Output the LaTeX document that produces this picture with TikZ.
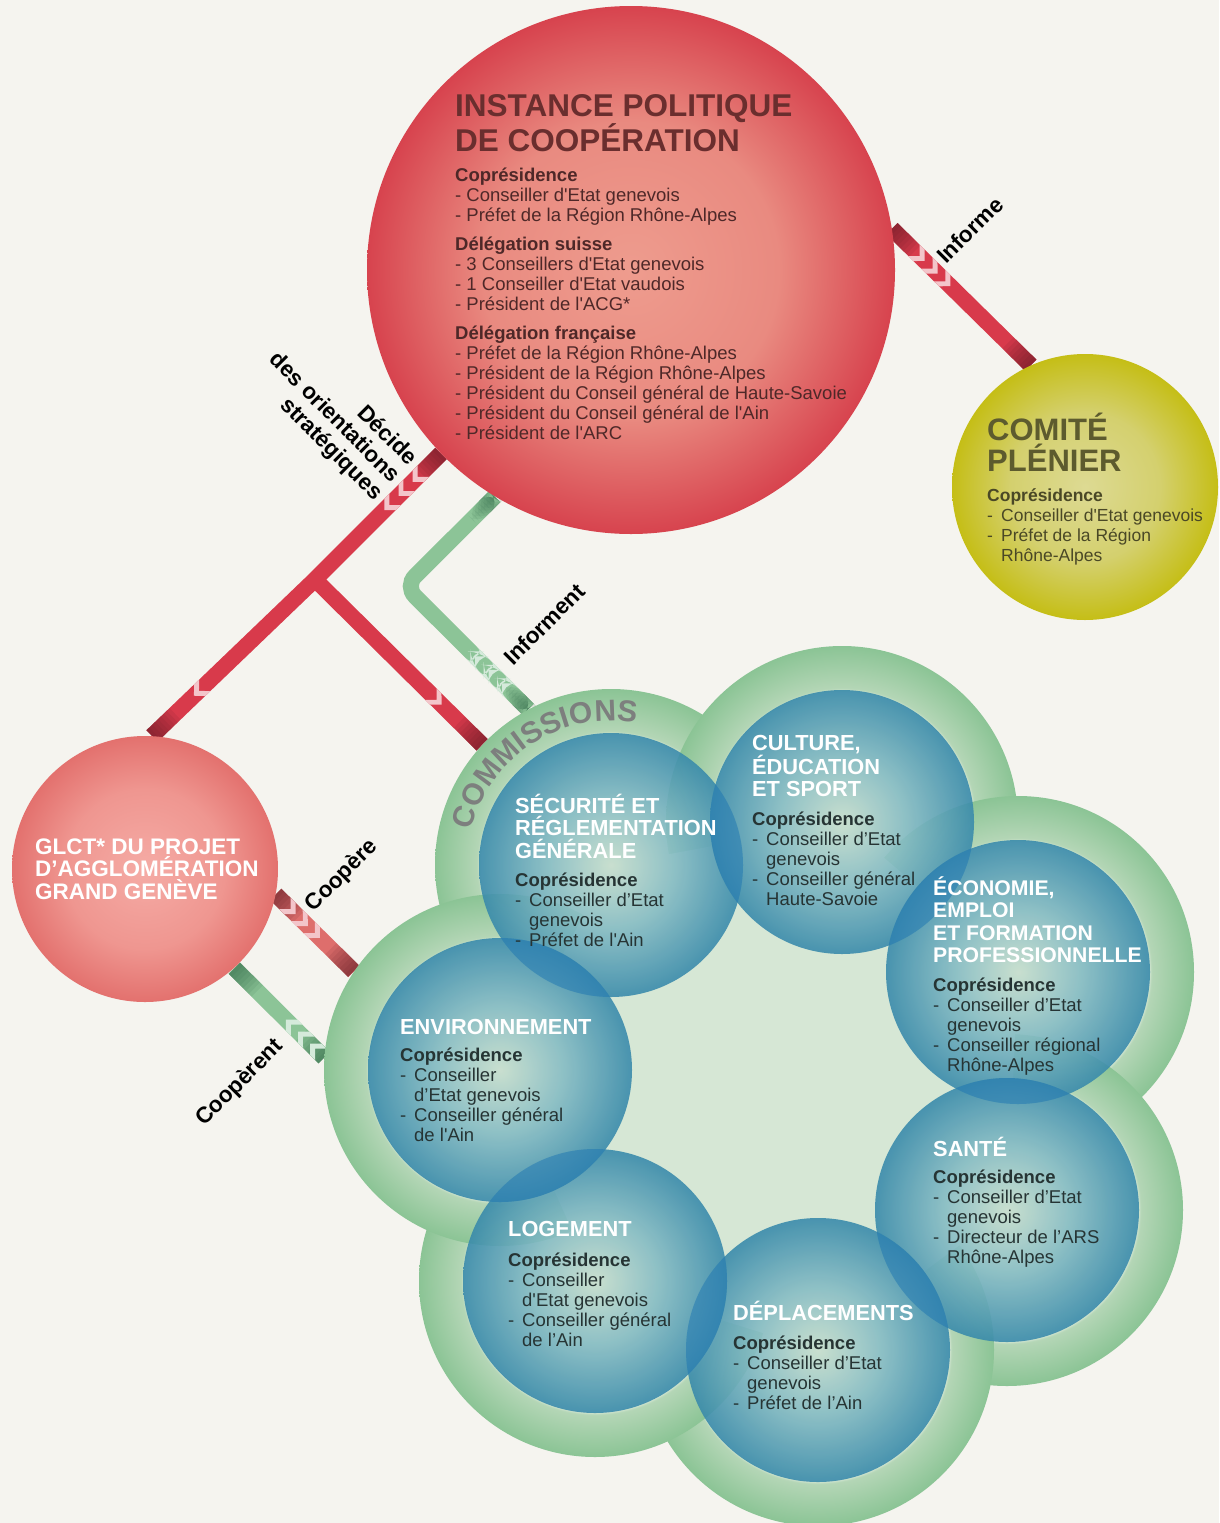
\documentclass[tikz,border=0pt]{standalone}
\usepackage{fontspec}
\setmainfont{Liberation Sans}
\usetikzlibrary{decorations.markings,decorations.text}

\definecolor{bgpaper}{HTML}{F5F4EF}
\definecolor{ipcin}{HTML}{EE9C8E}
\definecolor{ipcmid}{HTML}{E98A80}
\definecolor{ipcout}{HTML}{D7434E}
\definecolor{cpin}{HTML}{DDDA93}
\definecolor{cpmid}{HTML}{D4D06E}
\definecolor{cpout}{HTML}{C5BE16}
\definecolor{glctin}{HTML}{F5ABA5}
\definecolor{glctmid}{HTML}{EF9690}
\definecolor{glctout}{HTML}{E3716E}
\definecolor{bubin}{HTML}{C8DFCF}
\definecolor{bubmid}{HTML}{86BCC4}
\definecolor{bubout}{HTML}{3A8BAB}
\definecolor{ringin}{HTML}{D6E7D5}
\definecolor{ringmid}{HTML}{B4D6B6}
\definecolor{ringout}{HTML}{8BC495}
\definecolor{palegreen}{HTML}{D6E7D5}
\definecolor{lensblue}{HTML}{2A7DB5}
\definecolor{linkred}{HTML}{D83A4B}
\definecolor{linkpink}{HTML}{DE6E6C}
\definecolor{linkgreen}{HTML}{8CC497}
\definecolor{tipred}{HTML}{5E1A24}
\definecolor{tipgreen}{HTML}{2C6444}
\definecolor{chevred}{HTML}{F3C5CA}
\definecolor{chevgreen}{HTML}{D5EADB}
\definecolor{ipctext}{HTML}{6A2E2E}
\definecolor{ipcbody}{HTML}{4E2828}
\definecolor{cptext}{HTML}{5D5B2E}
\definecolor{cpbody}{HTML}{4A4826}
\definecolor{ctext}{HTML}{263434}
\definecolor{comgray}{HTML}{7D7F7E}

\pgfdeclareradialshading{ipcshade}{\pgfpoint{0bp}{0bp}}{color(0bp)=(ipcin);color(14bp)=(ipcmid);color(25bp)=(ipcout);color(50bp)=(ipcout)}
\pgfdeclareradialshading{cpshade}{\pgfpoint{0bp}{0bp}}{color(0bp)=(cpin);color(14bp)=(cpmid);color(25bp)=(cpout);color(50bp)=(cpout)}
\pgfdeclareradialshading{glctshade}{\pgfpoint{0bp}{0bp}}{color(0bp)=(glctin);color(15bp)=(glctmid);color(25bp)=(glctout);color(50bp)=(glctout)}
\pgfdeclareradialshading{bubshade}{\pgfpoint{0bp}{0bp}}{color(0bp)=(bubin);color(12bp)=(bubmid);color(25bp)=(bubout);color(50bp)=(bubout)}
\pgfdeclareradialshading{ringshade}{\pgfpoint{0bp}{0bp}}{color(0bp)=(ringin);color(18.6bp)=(ringin);color(19bp)=(ringmid);color(25bp)=(ringout);color(50bp)=(ringout)}

\pgfdeclarelayer{paper}
\pgfdeclarelayer{links}
\pgfsetlayers{paper,links,main}

\newcommand{\dsh}{\makebox[14pt][l]{-}}
\newcommand{\hng}{\hspace*{14pt}}
\newcommand{\sq}{\textquotesingle}

\begin{document}
\begin{tikzpicture}[x=1pt,y=-1pt,
  ball/.style={circle,inner sep=0pt,minimum size=#1},
  bubble/.style={ball=264pt,shading=bubshade,fill opacity=.9},
  ring/.style={ball=352pt,shading=ringshade},
  band/.style={line width=16pt,draw=#1},
  tipin/.style={postaction={decorate,decoration={markings,mark=at position 0 with {
      \foreach \l in {4,8,...,32} \fill[#1,opacity=.1] (0pt,-8pt) rectangle (\l*1pt,8pt);}}}},
  tipout/.style={postaction={decorate,decoration={markings,mark=at position 1 with {
      \foreach \l in {4,8,...,32} \fill[#1,opacity=.1] (-\l*1pt,-8pt) rectangle (0pt,8pt);}}}},
  chev/.style 2 args={postaction={decorate,decoration={markings,mark=at position #2 with {
      \fill[#1] (0pt,0pt) -- (-8pt,8pt) -- (-15pt,8pt) -- (-7pt,0pt) -- (-15pt,-8pt) -- (-8pt,-8pt) -- cycle;}}}},
  redchev/.style={chev={chevred}{#1}},
  greenchev/.style={chev={chevgreen}{#1}},
  ipctitle/.style={anchor=base west,align=left,inner sep=0pt,text=ipctext,font=\fontsize{31.5}{32.3}\selectfont\bfseries},
  ipctxt/.style={anchor=base west,align=left,inner sep=0pt,text=ipcbody,font=\fontsize{18.5}{20}\selectfont},
  ctitle/.style={anchor=base west,align=left,inner sep=0pt,text=white,font=\fontsize{21.8}{22.6}\selectfont\bfseries},
  cbody/.style={anchor=base west,align=left,inner sep=0pt,text=ctext,font=\fontsize{18.5}{20}\selectfont},
  linklabel/.style={inner sep=0pt,font=\fontsize{22.5}{24.5}\selectfont\bfseries}]

\useasboundingbox (0,0) rectangle (1219,1523);
\begin{pgfonlayer}{paper}
  \fill[bgpaper] (0,0) rectangle (1219,1523);
\end{pgfonlayer}

%big circles
\node[ball=528pt,shading=ipcshade] (ipc) at (631,270) {};
\node[ball=266pt,shading=cpshade] (cp) at (1085,487) {};
\node[ball=266pt,shading=glctshade] (glct) at (145,869) {};

%commissions cloud
\foreach \n/\x/\y in {sec/611/865,cul/842/822,eco/1018/972,san/1007/1210,dep/818/1350,log/595/1281,env/500/1070}
  \node[ring] (g\n) at (\x,\y) {};
\fill[palegreen] (gsec.center) -- (gcul.center) -- (geco.center) -- (gsan.center)
  -- (gdep.center) -- (glog.center) -- (genv.center) -- cycle;
\foreach \n/\x/\y in {sec/611/865,cul/842/822,eco/1018/972,san/1007/1210,dep/818/1350,log/595/1281,env/500/1070}
  \node[bubble] (\n) at (\x,\y) {};
\foreach \a/\b in {sec/cul,cul/eco,eco/san,san/dep,dep/log,log/env,env/sec}{
  \begin{scope}
    \clip (\a.center) circle[radius=132];
    \fill[lensblue,fill opacity=.5] (\b.center) circle[radius=132];
  \end{scope}}
\path[decorate,decoration={text along path,text align=center,
  text={|\fontsize{30}{30}\selectfont\bfseries\color{comgray}|COMMISSIONS}}]
  (sec.center) ++(-167:144) arc[start angle=-167,end angle=-79,radius=144];

%links
\begin{pgfonlayer}{links}
  \coordinate (jct) at (315,579.5);
  \coordinate (bend) at (405,586.2);
  \draw[band=linkred,tipin=tipred,tipout=tipred,redchev=46pt,redchev=64pt,redchev=82pt] (ipc.9) -- (cp.114); %informe
  \draw[band=linkred,tipin=tipred,tipout=tipred,redchev=40pt,redchev=60pt,redchev=80pt,redchev=346pt]
    (ipc.224) -- (jct) -- (glct.87); %decide
  \draw[band=linkred,tipout=tipred,redchev=178pt] (jct) -- (gsec.137); %decide commissions
  \draw[band=linkgreen,rounded corners=14pt,tipin=tipgreen,tipout=tipgreen,greenchev=44pt,greenchev=63pt,greenchev=82pt]
    (gsec.118) -- (bend) -- (ipc.239); %informent
  \draw[band=linkpink,tipin=tipred,tipout=tipred,redchev=28pt,redchev=45pt,redchev=62pt] (glct.-11) -- (genv.146); %coopere
  \draw[band=linkgreen,tipin=tipgreen,tipout=tipgreen,greenchev=20pt,greenchev=37pt,greenchev=54pt] (genv.176) -- (glct.-48); %cooperent
\end{pgfonlayer}

%link labels
\node[linklabel,rotate=45] (lInforme) at (970,230) {Informe};
\node[linklabel,rotate=-45,align=right] (lDecide) at (334,418) {Décide\\des orientations\\stratégiques};
\node[linklabel,rotate=45] (lInforment) at (544,624) {Informent};
\node[linklabel,rotate=45] (lCoopere) at (342,876) {Coopère};
\node[linklabel,rotate=45] (lCooperent) at (240,1083) {Coopèrent};

%instance text (anchored on last baseline)
\node[ipctitle] (ipcT) at (455,151.8) {INSTANCE POLITIQUE\\DE COOPÉRATION};
\node[ipctxt] (ipcB) at (455,439.7) {\textbf{Coprésidence}\\- Conseiller d\sq Etat genevois\\- Préfet de la Région Rhône-Alpes\\[9pt]
  \textbf{Délégation suisse}\\- 3 Conseillers d\sq Etat genevois\\- 1 Conseiller d\sq Etat vaudois\\- Président de l\sq ACG*\\[9pt]
  \textbf{Délégation française}\\- Préfet de la Région Rhône-Alpes\\- Président de la Région Rhône-Alpes\\
  - Président du Conseil général de Haute-Savoie\\- Président du Conseil général de l\sq Ain\\- Président de l\sq ARC};

%comite text
\node[ipctitle,text=cptext,font=\fontsize{31}{31}\selectfont\bfseries] (cpT) at (987,471.7) {COMITÉ\\PLÉNIER};
\node[ipctxt,text=cpbody,font=\fontsize{17.5}{20}\selectfont] (cpB) at (987,561.7) {\textbf{Coprésidence}\\\dsh Conseiller d\sq Etat genevois\\\dsh Préfet de la Région\\\hng Rhône-Alpes};

%glct text
\node[ctitle,font=\fontsize{22.5}{22.5}\selectfont\bfseries] (glctT) at (35,899.3) {GLCT* DU PROJET\\D’AGGLOMÉRATION\\GRAND GENÈVE};

%commission texts
\node[ctitle] (secT) at (515,858.5) {SÉCURITÉ ET\\RÉGLEMENTATION\\GÉNÉRALE};
\node[cbody] (secB) at (515,946.7) {\textbf{Coprésidence}\\\dsh Conseiller d’Etat\\\hng genevois\\\dsh Préfet de l\sq Ain};
\node[ctitle] (culT) at (752,796.9) {CULTURE,\\ÉDUCATION\\ET SPORT};
\node[cbody] (culB) at (752,905.7) {\textbf{Coprésidence}\\\dsh Conseiller d’Etat\\\hng genevois\\\dsh Conseiller général\\\hng Haute-Savoie};
\node[ctitle,font=\fontsize{21.2}{22.6}\selectfont\bfseries] (ecoT) at (933,962.8) {ÉCONOMIE,\\EMPLOI\\ET FORMATION\\PROFESSIONNELLE};
\node[cbody] (ecoB) at (933,1071.7) {\textbf{Coprésidence}\\\dsh Conseiller d’Etat\\\hng genevois\\\dsh Conseiller régional\\\hng Rhône-Alpes};
\node[ctitle] (envT) at (400,1034) {ENVIRONNEMENT};
\node[cbody] (envB) at (400,1141.7) {\textbf{Coprésidence}\\\dsh Conseiller\\\hng d’Etat genevois\\\dsh Conseiller général\\\hng de l\sq Ain};
\node[ctitle] (sanT) at (933,1156.7) {SANTÉ};
\node[cbody] (sanB) at (933,1263.3) {\textbf{Coprésidence}\\\dsh Conseiller d’Etat\\\hng genevois\\\dsh Directeur de l’ARS\\\hng Rhône-Alpes};
\node[ctitle] (logT) at (508,1236.7) {LOGEMENT};
\node[cbody] (logB) at (508,1346) {\textbf{Coprésidence}\\\dsh Conseiller\\\hng d\sq Etat genevois\\\dsh Conseiller général\\\hng de l’Ain};
\node[ctitle] (depT) at (733,1320.7) {DÉPLACEMENTS};
\node[cbody] (depB) at (733,1409) {\textbf{Coprésidence}\\\dsh Conseiller d’Etat\\\hng genevois\\\dsh Préfet de l’Ain};

\end{tikzpicture}
\end{document}
